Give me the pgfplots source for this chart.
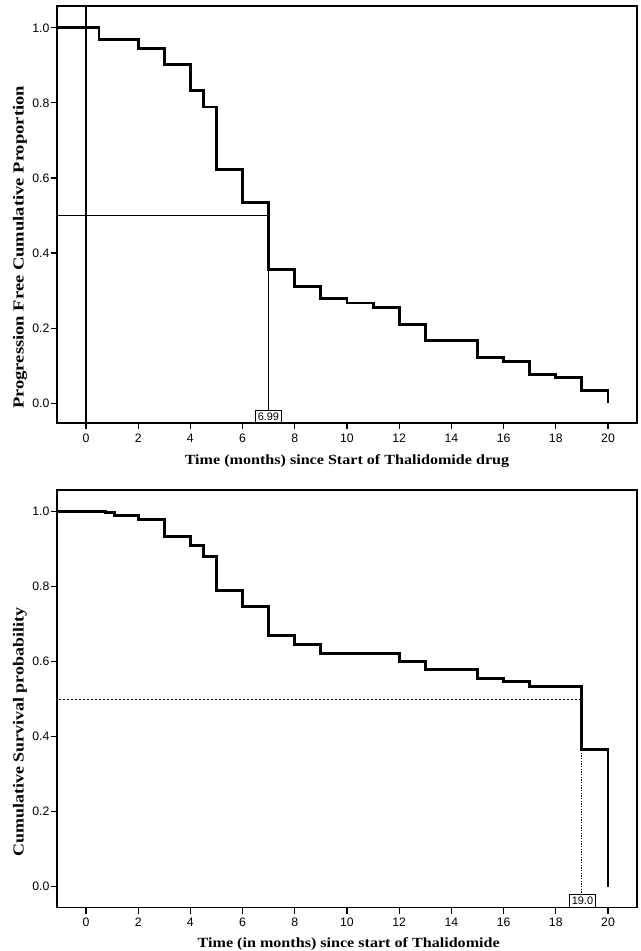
\documentclass[border=0pt]{standalone}
\usepackage{fontspec}
\setmainfont{Liberation Serif}
\newfontfamily\arial{Liberation Sans}
\usepackage{pgfplots}
\pgfplotsset{compat=1.18}
\usepackage{graphicx}

\pgfplotsset{
  km/.style={
    scale only axis,
    anchor=south west,
    width=435pt,
    xmin=-1.11, xmax=21.11,
    ymax=1.058,
    axis line style={line width=1.2pt},
    xtick={0,2,...,20},
    ytick={0,0.2,0.4,0.6,0.8,1.0},
    tick align=outside,
    tick pos=left,
    major tick length=4.5pt,
    tick style={black, line width=0.9pt},
    tick label style={font=\arial\fontsize{9.2}{10}\selectfont},
    yticklabel style={inner sep=1pt,
      /pgf/number format/.cd, fixed, fixed zerofill, precision=1},
    /pgf/number format/assume math mode=true,
    xlabel style={anchor=center, font=\bfseries\fontsize{10.5}{12}\selectfont},
    ylabel style={anchor=center, font=\bfseries\fontsize{11.5}{13}\selectfont},
    clip=true,
  },
  curve/.style={black, line width=2.2pt, const plot},
}
\tikzset{
  medbox/.style={draw=black, line width=0.7pt, fill=white, inner sep=1.8pt,
    font=\arial\fontsize{8.2}{9}\selectfont, anchor=south},
}

\begin{document}
\begin{tikzpicture}
\useasboundingbox (0,0) rectangle (480.75pt,713.25pt);

% progression free
\begin{axis}[km,
  at={(42.75pt,396pt)},
  height=312.75pt,
  ymin=-0.0525,
  xlabel={\scalebox{1.15}[1]{Time (months) since Start of Thalidomide drug}},
  xlabel style={at={(axis description cs:0.5,-0.0911)}},
  ylabel={\scalebox{1.21}[1]{Progression Free Cumulative Proportion}},
  ylabel style={at={(axis description cs:-0.0638,0.421)}},
]
\addplot[black, line width=0.8pt] coordinates {(0,-0.06) (0,1.07)};
\addplot[black, line width=0.8pt] coordinates {(-1.2,0.5) (6.99,0.5) (6.99,-0.018)};
\addplot[curve] coordinates {
  (-1.2,1.0) (0.5,0.969) (2,0.944) (3,0.901) (4,0.834) (4.5,0.789)
  (5,0.622) (6,0.534) (7,0.356) (8,0.311) (9,0.278) (10,0.267)
  (11,0.256) (12,0.211) (13,0.167) (15,0.121) (16,0.111) (17,0.076)
  (18,0.068) (19,0.034) (20,0.0)};
\node[medbox] at (axis cs:6.99,-0.0525) {6.99};
\end{axis}

% overall survival
\begin{axis}[km,
  at={(42.75pt,32.5pt)},
  height=313.3pt,
  ymin=-0.056,
  xlabel={\scalebox{1.15}[1]{Time (in months) since start of Thalidomide}},
  xlabel style={at={(axis description cs:0.503,-0.0869)}},
  ylabel={\scalebox{1.17}[1]{Cumulative Survival probability}},
  ylabel style={at={(axis description cs:-0.0638,0.42)}},
]
\addplot[black, line width=0.7pt, dash pattern=on 2pt off 1pt] coordinates {(-1.2,0.5) (19,0.5)};
\addplot[black, line width=0.7pt, dash pattern=on 1pt off 1pt] coordinates {(19,0.5) (19,-0.016)};
\addplot[curve] coordinates {
  (-1.2,1.0) (0.75,0.997) (1.1,0.99) (2,0.980) (3,0.933) (4,0.911)
  (4.5,0.880) (5,0.791) (6,0.747) (7,0.669) (8,0.645) (9,0.623)
  (12,0.600) (13,0.578) (15,0.556) (16,0.546) (17,0.533) (19,0.367)
  (20,0.0)};
\node[medbox] at (axis cs:19.02,-0.056) {19.0};
\end{axis}
\end{tikzpicture}
\end{document}
